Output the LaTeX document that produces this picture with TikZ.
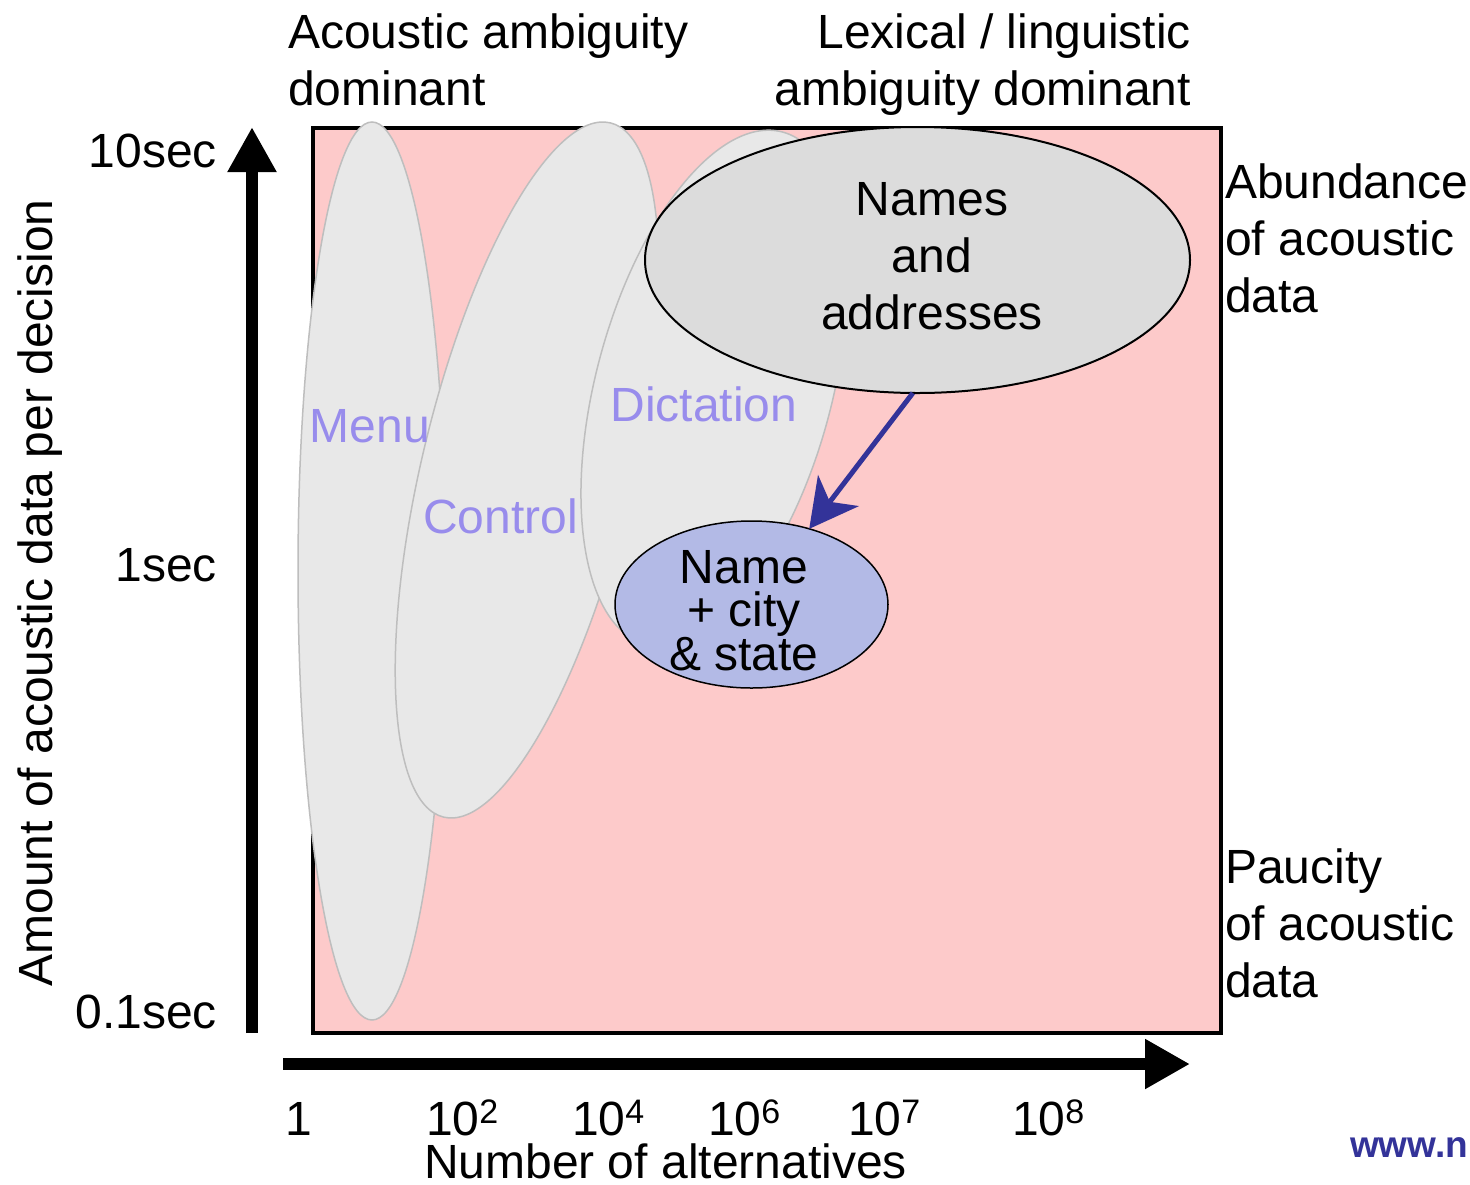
\documentclass[tikz,border=0pt]{standalone}
\usepackage{fontspec}
\setmainfont{Liberation Sans}
\usetikzlibrary{arrows.meta,shapes.geometric}
\definecolor{panel}{RGB}{253,202,202}
\definecolor{blobfill}{RGB}{232,232,232}
\definecolor{blobline}{RGB}{190,190,190}
\definecolor{namesfill}{RGB}{220,220,220}
\definecolor{cityfill}{RGB}{179,186,230}
\definecolor{lav}{RGB}{152,140,236}
\definecolor{navy}{RGB}{51,51,153}
\newcommand\tenpow[1]{10\raisebox{12pt}{\fontsize{34}{34}\selectfont #1}}
\begin{document}
\begin{tikzpicture}[x=1pt,y=-1pt,
  txt/.style={font=\fontsize{48}{57}\selectfont, inner sep=0pt, outer sep=0pt},
  area/.style={txt, text=lav},
  blob/.style={fill=blobfill, draw=blobline, line width=1.5pt},
  axisline/.style={line width=12pt, -{Triangle[length=45pt,width=46pt]}},
  oval/.style={ellipse, draw, inner sep=0pt, outer sep=0pt}
]
\useasboundingbox (0,0) rectangle (1470,1184);
\fill[white] (0,0) rectangle (1470,1184);

% plot area
\draw[line width=4.5pt, fill=panel] (313,128) rectangle (1221,1033);

% application regions
\draw[blob] (372,571) ellipse [x radius=74pt, y radius=449pt];
\draw[blob, rotate around={-13.5:(527,470)}] (527,470) ellipse [x radius=105pt, y radius=357pt];
\draw[blob, rotate around={-15:(714,388)}] (714,388) ellipse [x radius=118pt, y radius=265pt];

% tasks
\node[oval, line width=2pt, fill=namesfill, minimum width=545pt, minimum height=266pt] (names) at (917.5,260) {};
\node[txt, align=center, anchor=north] (nameslbl) at (932,182) {Names\\and\\addresses};
\node[oval, line width=1.5pt, fill=cityfill, minimum width=273pt, minimum height=167pt] (city) at (751.5,604.5) {};
\node[txt, font=\fontsize{48}{43}\selectfont, align=center, anchor=north] (citylbl) at (744,550) {Name\\+ city\\\& state};
\draw[line width=5pt, navy, -{Stealth[length=48pt,width=51pt,inset=14pt]}] (names.268) -- (city);

% region labels
\node[area, anchor=base] (menu) at (370,442) {Menu};
\node[area, anchor=base] (ctrl) at (500.5,533) {Control};
\node[area, anchor=base] (dict) at (704,421) {Dictation};

% axes
\coordinate (y0) at (252,1033);
\coordinate (y1) at (252,127);
\draw[axisline] (y0) -- (y1);
\coordinate (x0) at (283,1064);
\coordinate (x1) at (1190,1064);
\draw[line width=12pt, -{Triangle[length=45pt,width=47pt]}] (x0) -- (x1);

% vertical scale
\node[txt, anchor=base east] (t10) at (217,167) {10sec};
\node[txt, anchor=base east] (t1) at (217,581) {1sec};
\node[txt, anchor=base east] (t01) at (217,1028) {0.1sec};
\node[txt, rotate=90, anchor=base] (ylab) at (52,593) {Amount of acoustic data per decision};

% horizontal scale
\node[txt, anchor=base west] (n0) at (285,1135) {1};
\node[txt, anchor=base west] (n2) at (426,1135) {\tenpow{2}};
\node[txt, anchor=base west] (n4) at (572,1135) {\tenpow{4}};
\node[txt, anchor=base west] (n6) at (708,1135) {\tenpow{6}};
\node[txt, anchor=base west] (n7) at (848,1135) {\tenpow{7}};
\node[txt, anchor=base west] (n8) at (1012,1135) {\tenpow{8}};
\node[txt, anchor=base west] (xlab) at (424,1178) {Number of alternatives};

% side annotations
\node[txt, align=left, anchor=north west] (lefttop) at (288,14) {Acoustic ambiguity\\dominant};
\node[txt, align=right, anchor=north east] (righttop) at (1191,14) {Lexical / linguistic\\ambiguity dominant};
\node[txt, align=left, anchor=north west] (abund) at (1225,164) {Abundance\\of acoustic\\data};
\node[txt, align=left, anchor=north west] (pauc) at (1225,849) {Paucity\\of acoustic\\data};

\node[txt, font=\bfseries\fontsize{37}{37}\selectfont, text=navy, anchor=base west] (url) at (1350,1157) {www.n};
\end{tikzpicture}
\end{document}
